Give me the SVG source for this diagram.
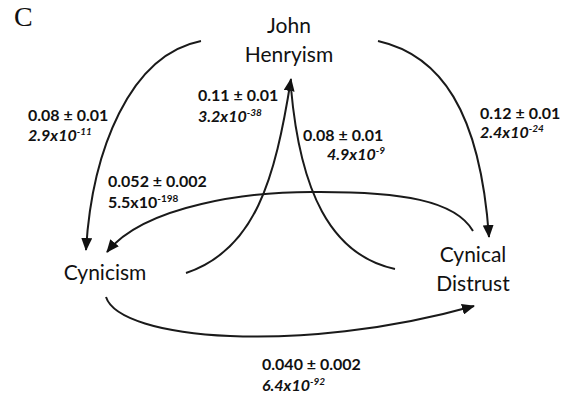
<svg xmlns="http://www.w3.org/2000/svg" width="569" height="399" viewBox="0 0 569 399">
<style>
.node{font-family:Lato,"Open Sans","Liberation Sans",sans-serif;font-size:21px;fill:#111;text-anchor:middle}
.lbl{font-family:Lato,"Liberation Sans",sans-serif;font-size:16px;font-weight:bold;fill:#111}
.it{font-style:italic}
.sup{font-size:10px}
.edge{fill:none;stroke:#1a1a1a;stroke-width:2}
</style>
<defs>
<marker id="arr" markerUnits="userSpaceOnUse" markerWidth="13" markerHeight="11" refX="12" refY="5.5" orient="auto">
<path d="M0,0 L13,5.5 L0,11 z" fill="#111"/>
</marker>
</defs>
<rect width="569" height="399" fill="#fff"/>
<text x="14" y="26" font-family="'Liberation Serif',serif" font-size="28" fill="#111">C</text>
<g id="connectors">
<path class="edge" d="M201,41 C130,55 92,150 86,250" marker-end="url(#arr)"/>
<path class="edge" d="M378,41 C440,55 480,110 489,237" marker-end="url(#arr)"/>
<path class="edge" d="M186,273 C255,250 275,180 291,79" marker-end="url(#arr)"/>
<path class="edge" d="M395,269 C330,255 300,190 291,88"/>
<path class="edge" d="M473,231 C455,200 400,192 320,192 C250,191 145,205 107,252" marker-end="url(#arr)"/>
<path class="edge" d="M106,297 C120,340 300,355 474,306" marker-end="url(#arr)"/>
</g>
<g id="labels">
<text class="lbl" x="28" y="121">0.08 ± 0.01</text>
<text class="lbl it" x="28" y="141">2.9x10<tspan class="sup" dy="-6">-11</tspan></text>
<text class="lbl" x="198" y="101">0.11 ± 0.01</text>
<text class="lbl it" x="198" y="122">3.2x10<tspan class="sup" dy="-6">-38</tspan></text>
<text class="lbl" x="303" y="141">0.08 ± 0.01</text>
<text class="lbl it" x="327" y="160">4.9x10<tspan class="sup" dy="-6">-9</tspan></text>
<text class="lbl" x="480" y="119">0.12 ± 0.01</text>
<text class="lbl it" x="480" y="138">2.4x10<tspan class="sup" dy="-6">-24</tspan></text>
<text class="lbl" x="108" y="187">0.052 ± 0.002</text>
<text class="lbl" x="108" y="208">5.5x10<tspan class="sup" dy="-6">-198</tspan></text>
<text class="lbl" x="262" y="370">0.040 ± 0.002</text>
<text class="lbl it" x="262" y="391">6.4x10<tspan class="sup" dy="-6">-92</tspan></text>
</g>
<g id="john-henryism">
<text class="node" x="289" y="33">John</text>
<text class="node" x="289" y="62">Henryism</text>
</g>
<g id="cynicism">
<text class="node" x="105" y="280">Cynicism</text>
</g>
<g id="cynical-distrust">
<text class="node" x="473" y="262">Cynical</text>
<text class="node" x="473" y="291">Distrust</text>
</g>
</svg>
